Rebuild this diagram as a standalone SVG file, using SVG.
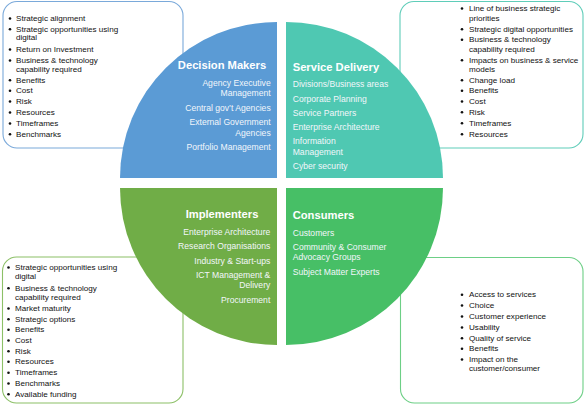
<svg xmlns="http://www.w3.org/2000/svg" width="586" height="411" viewBox="0 0 586 411">
<style>
.box{fill:#ffffff;stroke-width:1.1}
.bt{font-family:"Liberation Sans",Arial,sans-serif;font-size:8.1px;fill:#111111}
.dot{fill:#111111}
.hd{font-family:"Liberation Sans",Arial,sans-serif;font-size:11.2px;font-weight:bold;fill:#ffffff}
.qt{font-family:"Liberation Sans",Arial,sans-serif;font-size:8.6px;fill:#f2f6fb}
.end{text-anchor:end}
.mid{text-anchor:middle}
</style>
<rect width="586" height="411" fill="#ffffff"/>

<g id="box-decision-makers">
<rect class="box" x="3" y="1.5" width="180" height="146.5" rx="14" stroke="#7aa9da"/>
<g class="dot"><circle cx="10" cy="18.5" r="1.3"/><circle cx="10" cy="29.2" r="1.3"/><circle cx="10" cy="49.5" r="1.3"/><circle cx="10" cy="60.5" r="1.3"/><circle cx="10" cy="80.2" r="1.3"/><circle cx="10" cy="90.8" r="1.3"/><circle cx="10" cy="101.5" r="1.3"/><circle cx="10" cy="112.5" r="1.3"/><circle cx="10" cy="123.5" r="1.3"/><circle cx="10" cy="134.2" r="1.3"/></g>
<text class="bt"><tspan x="16" y="21">Strategic alignment</tspan><tspan x="16" y="31.7">Strategic opportunities using</tspan><tspan x="16" y="40.3">digital</tspan><tspan x="16" y="52">Return on Investment</tspan><tspan x="16" y="63">Business &amp; technology</tspan><tspan x="16" y="71.7">capability required</tspan><tspan x="16" y="82.7">Benefits</tspan><tspan x="16" y="93.3">Cost</tspan><tspan x="16" y="104">Risk</tspan><tspan x="16" y="115">Resources</tspan><tspan x="16" y="126">Timeframes</tspan><tspan x="16" y="136.7">Benchmarks</tspan></text>
</g>

<g id="box-service-delivery">
<rect class="box" x="400" y="1.5" width="183" height="146.5" rx="14" stroke="#5fcdb9"/>
<g class="dot"><circle cx="462" cy="8.5" r="1.3"/><circle cx="462" cy="29.2" r="1.3"/><circle cx="462" cy="39.8" r="1.3"/><circle cx="462" cy="60.2" r="1.3"/><circle cx="462" cy="80.2" r="1.3"/><circle cx="462" cy="90.8" r="1.3"/><circle cx="462" cy="101.5" r="1.3"/><circle cx="462" cy="112.2" r="1.3"/><circle cx="462" cy="123.2" r="1.3"/><circle cx="462" cy="134.2" r="1.3"/></g>
<text class="bt"><tspan x="469" y="11">Line of business strategic</tspan><tspan x="469" y="20.7">priorities</tspan><tspan x="469" y="31.7">Strategic digital opportunities</tspan><tspan x="469" y="42.3">Business &amp; technology</tspan><tspan x="469" y="51.7">capability required</tspan><tspan x="469" y="62.7">Impacts on business &amp; service</tspan><tspan x="469" y="71.7">models</tspan><tspan x="469" y="82.7">Change load</tspan><tspan x="469" y="93.3">Benefits</tspan><tspan x="469" y="104">Cost</tspan><tspan x="469" y="114.7">Risk</tspan><tspan x="469" y="125.7">Timeframes</tspan><tspan x="469" y="136.7">Resources</tspan></text>
</g>

<g id="box-implementers">
<rect class="box" x="2.5" y="257" width="180.5" height="146" rx="14" stroke="#8cc067"/>
<g class="dot"><circle cx="8.5" cy="267.5" r="1.3"/><circle cx="8.5" cy="288.2" r="1.3"/><circle cx="8.5" cy="308.5" r="1.3"/><circle cx="8.5" cy="319.2" r="1.3"/><circle cx="8.5" cy="329.8" r="1.3"/><circle cx="8.5" cy="340.5" r="1.3"/><circle cx="8.5" cy="351.2" r="1.3"/><circle cx="8.5" cy="361.8" r="1.3"/><circle cx="8.5" cy="372.8" r="1.3"/><circle cx="8.5" cy="383.5" r="1.3"/><circle cx="8.5" cy="394.2" r="1.3"/></g>
<text class="bt"><tspan x="15" y="270">Strategic opportunities using</tspan><tspan x="15" y="279.3">digital</tspan><tspan x="15" y="290.7">Business &amp; technology</tspan><tspan x="15" y="300">capability required</tspan><tspan x="15" y="311">Market maturity</tspan><tspan x="15" y="321.7">Strategic options</tspan><tspan x="15" y="332.3">Benefits</tspan><tspan x="15" y="343">Cost</tspan><tspan x="15" y="353.7">Risk</tspan><tspan x="15" y="364.3">Resources</tspan><tspan x="15" y="375.3">Timeframes</tspan><tspan x="15" y="386">Benchmarks</tspan><tspan x="15" y="396.7">Available funding</tspan></text>
</g>

<g id="box-consumers">
<rect class="box" x="400.5" y="257.5" width="182.5" height="145.5" rx="14" stroke="#6dcf86"/>
<g class="dot"><circle cx="462" cy="294.8" r="1.3"/><circle cx="462" cy="305.5" r="1.3"/><circle cx="462" cy="316.5" r="1.3"/><circle cx="462" cy="327.5" r="1.3"/><circle cx="462" cy="338.2" r="1.3"/><circle cx="462" cy="348.8" r="1.3"/><circle cx="462" cy="359.5" r="1.3"/></g>
<text class="bt"><tspan x="469" y="297.3">Access to services</tspan><tspan x="469" y="308">Choice</tspan><tspan x="469" y="319">Customer experience</tspan><tspan x="469" y="330">Usability</tspan><tspan x="469" y="340.7">Quality of service</tspan><tspan x="469" y="351.3">Benefits</tspan><tspan x="469" y="362">Impact on the</tspan><tspan x="469" y="371.3">customer/consumer</tspan></text>
</g>

<g id="decision-makers">
<path d="M277 178 L120 178 A157 156 0 0 1 277 22 Z" fill="#5b9bd5"/>
<text class="hd mid" x="222" y="69">Decision Makers</text>
<text class="qt end"><tspan x="270.7" y="85.7">Agency Executive</tspan><tspan x="270.7" y="96">Management</tspan><tspan x="270.7" y="110.7">Central gov’t Agencies</tspan><tspan x="270.7" y="125">External Government</tspan><tspan x="270.7" y="135.7">Agencies</tspan><tspan x="270.7" y="150">Portfolio Management</tspan></text>
</g>

<g id="service-delivery">
<path d="M286 178 L286 22 A157 156 0 0 1 443 178 Z" fill="#4fc8b2"/>
<text class="hd" x="292.7" y="70.7">Service Delivery</text>
<text class="qt"><tspan x="292.7" y="87">Divisions/Business areas</tspan><tspan x="292.7" y="101.7">Corporate Planning</tspan><tspan x="292.7" y="115.7">Service Partners</tspan><tspan x="292.7" y="130">Enterprise Architecture</tspan><tspan x="292.7" y="144.3">Information</tspan><tspan x="292.7" y="155">Management</tspan><tspan x="292.7" y="169.3">Cyber security</tspan></text>
</g>

<g id="implementers">
<path d="M277 188 L277 345 A157 157 0 0 1 120 188 Z" fill="#70ad47"/>
<text class="hd mid" x="222" y="218.3">Implementers</text>
<text class="qt end"><tspan x="270.3" y="235">Enterprise Architecture</tspan><tspan x="270.3" y="249.3">Research Organisations</tspan><tspan x="270.3" y="263.7">Industry &amp; Start-ups</tspan><tspan x="270.3" y="278">ICT Management &amp;</tspan><tspan x="270.3" y="288.3">Delivery</tspan><tspan x="270.3" y="303">Procurement</tspan></text>
</g>

<g id="consumers">
<path d="M286 188 L443 188 A157 157 0 0 1 286 345 Z" fill="#47bf66"/>
<text class="hd" x="292.7" y="219">Consumers</text>
<text class="qt"><tspan x="292.7" y="236">Customers</tspan><tspan x="292.7" y="250.3">Community &amp; Consumer</tspan><tspan x="292.7" y="260">Advocacy Groups</tspan><tspan x="292.7" y="275">Subject Matter Experts</tspan></text>
</g>
</svg>
